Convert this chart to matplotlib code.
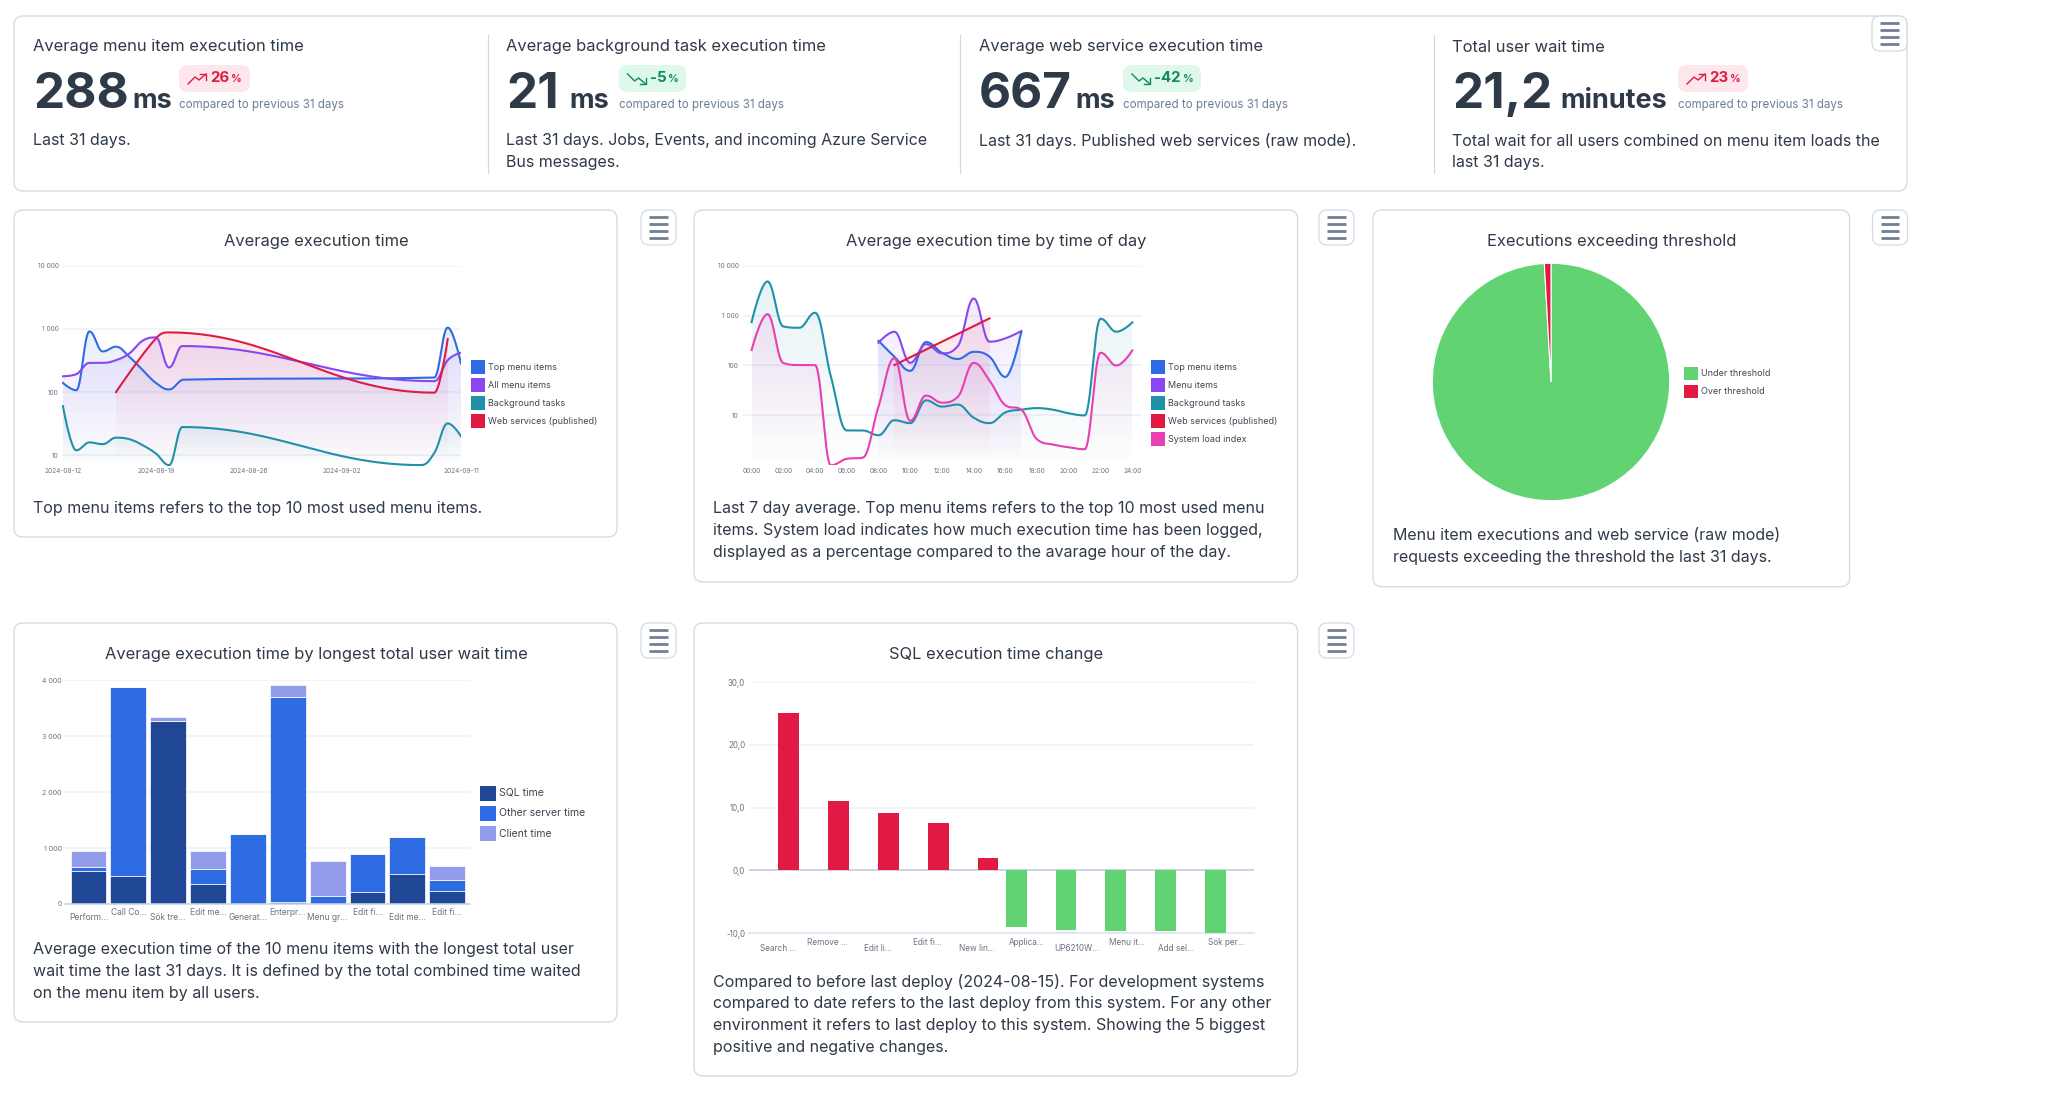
#!/usr/bin/env python3
"""Performance dashboard: KPI strip, two spline charts, a pie and two bar charts."""
import numpy as np
import matplotlib
matplotlib.use("Agg")
import matplotlib.pyplot as plt
from matplotlib.patches import FancyBboxPatch, Polygon, Rectangle
from matplotlib.colors import to_rgb

plt.rcParams["font.family"] = ["Inter", "DejaVu Sans"]

W, H = 2060, 1108

RED = "#e11a43"
BLUE = "#2e6ce3"
PURPLE = "#8a46f0"
TEAL = "#2091a9"
PINK = "#e93fb2"
GREEN = "#61d373"
NAVY = "#1f4795"
LILAC = "#929ceb"
INK = "#2f3a48"
BORDER = "#cfd8e6"
GRID = "#eff2f8"
TICK = "#6a7280"
BODY_PX = 16
TITLE_PX = 16.5

# ---- data ------------------------------------------------------------------
# average execution time, day index from 2024-08-12
top_days = [0, 1, 2, 3, 4, 5, 6, 7, 8, 9, 28, 29, 30]
top_vals = [140, 107, 912, 440, 523, 362, 225, 140, 110, 157, 170, 1050, 284]
all_days = [0, 1, 2, 3, 4, 5, 6, 7, 8, 9, 28, 29, 30]
all_vals = [178, 192, 290, 290, 320, 408, 650, 733, 245, 535, 149, 320, 420]
bg_days = [0, 1, 2, 3, 4, 5, 6, 7, 8, 9, 27, 28, 29, 30]
bg_vals = [60, 12, 16, 15, 19, 18, 14.5, 10.7, 7, 28, 7, 11, 32, 20]
ws_days = [4, 7, 8, 28, 29]
ws_vals = [100, 705, 880, 98, 690]
date_ticks = [0, 7, 14, 21, 30]
date_labels = ["2024-08-12", "2024-08-19", "2024-08-26", "2024-09-02", "2024-09-11"]

# average execution time by hour of day
hours_all = list(range(25))
hours_busy = list(range(8, 18))
hod_bg = [741, 4840, 607, 570, 1140, 60, 5, 5, 4, 8, 7, 20, 15, 16.5, 9, 7, 11.5, 13,
          14, 13, 11, 10, 865, 475, 730]
hod_load = [204, 1070, 112, 102, 102, 1, 1.35, 1.42, 15, 140, 7.8, 25, 18, 23.6, 113, 50,
            16, 13, 3.3, 2.6, 2.3, 2.1, 180, 100, 200]
hod_top = [313, 150, 78, 295, 180, 135, 188, 150, 59, 475]
hod_menu = [285, 475, 113, 268, 175, 245, 2200, 300, 350, 490]
hod_ws_hours = [9, 15]
hod_ws = [102, 880]
hour_ticks = list(range(0, 25, 2))
hour_labels = [f"{h:02d}:00" for h in hour_ticks]
log_ticks = [10, 100, 1000, 10000]
log_labels = ["10", "100", "1 000", "10 000"]

# threshold pie
pie_vals = [99.1, 0.9]
pie_names = ["Under threshold", "Over threshold"]

# longest wait stacked bars
wait_names = ["Perform…", "Call Co…", "Sök tre…", "Edit me…", "Generat…",
              "Enterpr…", "Menu gr…", "Edit fi…", "Edit me…", "Edit fi…"]
wait_sql = [596, 495, 3272, 364, 0, 30, 0, 209, 542, 238]
wait_other = [72, 3385, 0, 262, 1246, 3665, 143, 679, 656, 197]
wait_client = [280, 0, 66, 322, 0, 227, 632, 0, 0, 250]
wait_ticks = [0, 1000, 2000, 3000, 4000]
wait_labels = ["0", "1 000", "2 000", "3 000", "4 000"]

# sql change bars
sql_names = ["Search …", "Remove …", "Edit li…", "Edit fi…", "New lin…",
             "Applica…", "UP6210W…", "Menu it…", "Add sel…", "Sök per…"]
sql_down = [0, 0, 0, 0, 0, -9.0, -9.5, -9.65, -9.7, -10.0]
sql_up = [25.1, 11.1, 9.1, 7.6, 2.0, 0, 0, 0, 0, 0]
sql_ticks = [-10, 0, 10, 20, 30]
sql_labels = ["-10,0", "0,0", "10,0", "20,0", "30,0"]

# KPI strip
kpi_titles = ["Average menu item execution time", "Average background task execution time",
              "Average web service execution time", "Total user wait time"]
kpi_values = ["288", "21", "667", "21,2"]
kpi_units = ["ms", "ms", "ms", "minutes"]
kpi_deltas = ["26", "-5", "-42", "23"]
kpi_notes = [["Last 31 days."],
             ["Last 31 days. Jobs, Events, and incoming Azure Service", "Bus messages."],
             ["Last 31 days. Published web services (raw mode)."],
             ["Total wait for all users combined on menu item loads the", "last 31 days."]]

# ---- layout helpers --------------------------------------------------------
fig = plt.figure(figsize=(W / 100, H / 100), dpi=100, facecolor="white")
bg = fig.add_axes([0, 0, 1, 1], zorder=0)
bg.set_xlim(0, W)
bg.set_ylim(H, 0)
bg.axis("off")


def px_axes(x0, y0, x1, y1):
    ax = fig.add_axes([x0 / W, 1 - y1 / H, (x1 - x0) / W, (y1 - y0) / H], zorder=2)
    ax.patch.set_alpha(0)
    for s in ax.spines.values():
        s.set_visible(False)
    return ax


def label(x, y, s, px=14.5, color=INK, ha="left", va="center", **kw):
    return bg.text(x, y, s, fontsize=px * 0.72, color=color, ha=ha, va=va, **kw)


def card(x0, y0, x1, y1, r=9, ec=BORDER):
    bg.add_patch(FancyBboxPatch((x0 + r, y0 + r), x1 - x0 - 2 * r, y1 - y0 - 2 * r,
                                boxstyle=f"round,pad={r},rounding_size={r}",
                                fc="white", ec=ec, lw=0.9))


def menu_button(x0, y0):
    card(x0, y0, x0 + 35, y0 + 35, r=8, ec="#d3daea")
    for dy in (7.3, 14.3, 21.3, 28.3):
        bg.plot([x0 + 8, x0 + 26.5], [y0 + dy, y0 + dy], color="#718096", lw=2.0,
                solid_capstyle="butt")


def legend(x, y, names, colors, text_x, step=18, box=(13.5, 13.5), px=9):
    for i, (n, c) in enumerate(zip(names, colors)):
        yy = y + i * step
        bg.add_patch(Rectangle((x, yy - box[1] / 2), box[0], box[1], fc=c, ec="none"))
        label(text_x, yy, n, px=px, color="#3d4654")


def spline(x, y, log=True, n=60):
    """Highcharts-style bezier spline through the given points."""
    x = np.asarray(x, float)
    v = np.log10(y) if log else np.asarray(y, float)
    left = v.copy()
    right = v.copy()
    lx = x.copy()
    rx = x.copy()
    for i in range(1, len(x) - 1):
        lcx = (1.5 * x[i] + x[i - 1]) / 2.5
        lcy = (1.5 * v[i] + v[i - 1]) / 2.5
        rcx = (1.5 * x[i] + x[i + 1]) / 2.5
        rcy = (1.5 * v[i] + v[i + 1]) / 2.5
        corr = (rcy - lcy) * (rcx - x[i]) / (rcx - lcx) + v[i] - rcy
        lcy += corr
        rcy += corr
        if lcy > v[i - 1] and lcy > v[i]:
            lcy = max(v[i - 1], v[i])
            rcy = 2 * v[i] - lcy
        elif lcy < v[i - 1] and lcy < v[i]:
            lcy = min(v[i - 1], v[i])
            rcy = 2 * v[i] - lcy
        if rcy > v[i + 1] and rcy > v[i]:
            rcy = max(v[i + 1], v[i])
            lcy = 2 * v[i] - rcy
        elif rcy < v[i + 1] and rcy < v[i]:
            rcy = min(v[i + 1], v[i])
            lcy = 2 * v[i] - rcy
        lx[i], left[i], rx[i], right[i] = lcx, lcy, rcx, rcy
    t = np.linspace(0, 1, n)[:, None]
    out = []
    for i in range(len(x) - 1):
        p0 = np.array([x[i], v[i]])
        p1 = np.array([rx[i], right[i]])
        p2 = np.array([lx[i + 1], left[i + 1]])
        p3 = np.array([x[i + 1], v[i + 1]])
        out.append((1 - t) ** 3 * p0 + 3 * (1 - t) ** 2 * t * p1 + 3 * (1 - t) * t ** 2 * p2 + t ** 3 * p3)
    out = np.vstack(out)
    return out[:, 0], 10 ** out[:, 1] if log else out[:, 1]


def area_line(ax, x, y, color, ybase, z, top_alpha=0.11):
    xs, ys = spline(x, y)
    # gradient fill clipped to the area under the curve
    poly = Polygon(np.column_stack([np.r_[xs, xs[-1], xs[0]], np.r_[ys, ybase, ybase]]),
                   closed=True, fc="none", ec="none", transform=ax.transData)
    ax.add_patch(poly)
    edges = np.geomspace(ybase, ys.max(), 61)
    rgba = np.zeros((60, 1, 4))
    rgba[:, 0, :3] = to_rgb(color)
    rgba[:, 0, 3] = np.linspace(0.0, top_alpha, 60)
    mesh = ax.pcolormesh([xs.min(), xs.max()], edges, rgba, zorder=z, antialiased=False)
    mesh.set_clip_path(poly)
    ax.plot(xs, ys, color=color, lw=1.5, zorder=z + 10)


def style_axis(ax, xticks, xlabels, yticks, ylabels, xpx=6.5, ypx=6.5, grid_lw=1.3):
    ax.set_xticks(xticks, xlabels, fontsize=xpx * 0.72, color=TICK)
    ax.set_yticks(yticks, ylabels, fontsize=ypx * 0.72, color=TICK)
    ax.minorticks_off()
    ax.tick_params(axis="both", length=0)
    ax.tick_params(axis="y", pad=2.5)
    ax.tick_params(axis="x", pad=2)
    ax.grid(True, axis="y", color=GRID, lw=grid_lw, zorder=1)
    ax.set_axisbelow(True)


# ---- KPI strip -------------------------------------------------------------
card(14, 16, 1907, 191)
for dx in (488, 960, 1434):
    bg.plot([dx, dx], [35, 173], color=BORDER, lw=0.9)
menu_button(1872, 16)

col_x = [33, 506.5, 979, 1452]
unit_x = [132, 569.5, 1075, 1560.5]
badge_x = [(179, 250), (618.6, 686), (1123, 1201), (1678, 1748)]
for i in range(4):
    x = col_x[i]
    label(x, 47, kpi_titles[i], px=TITLE_PX)
    label(x, 108, kpi_values[i], px=49.5, fontweight="bold", va="baseline")
    label(unit_x[i], 108, kpi_units[i], px=27, fontweight="bold", va="baseline")
    b0, b1 = badge_x[i]
    up = not kpi_deltas[i].startswith("-")
    col = RED if up else "#0f8a5f"
    bg.add_patch(FancyBboxPatch((b0 + 9, 65 + 9), b1 - b0 - 18, 27 - 18,
                                boxstyle="round,pad=9,rounding_size=9",
                                fc="#fde7ec" if up else "#def8ec", ec="none"))
    ix = b0 + 9
    if up:
        bg.plot([ix, ix + 7, ix + 11, ix + 18], [84, 77, 80, 74], color=col, lw=1.0)
        bg.plot([ix + 12, ix + 18, ix + 18], [74, 74, 80], color=col, lw=1.0)
    else:
        bg.plot([ix, ix + 7, ix + 11, ix + 18], [74, 81, 78, 84], color=col, lw=1.0)
        bg.plot([ix + 12, ix + 18, ix + 18], [84, 84, 78], color=col, lw=1.0)
    t = label(ix + 22, 78.5, kpi_deltas[i], px=15, color=col, fontweight="bold")
    fig.canvas.draw()
    ext = t.get_window_extent()
    label(ext.x1 + 2, 79, "%", px=10.5, color=col, fontweight="bold")
    label(b0, 105, "compared to previous 31 days", px=11.6, color="#6d7f97")
    for j, line in enumerate(kpi_notes[i]):
        label(x, 141 + j * 22, line, px=BODY_PX)

# ---- average execution time ------------------------------------------------
card(14, 210, 617, 537)
menu_button(641, 210)
label(316, 241.7, "Average execution time", px=TITLE_PX, ha="center")
label(33.4, 509, "Top menu items refers to the top 10 most used menu items.", px=BODY_PX)

ax1 = px_axes(62, 265.7, 461, 465.7)
ax1.set_yscale("log")
ybase1 = 10 ** (1 - 10.4 / 63.2)
ax1.set_xlim(-0.07, 30)
ax1.set_ylim(ybase1, 10000)
area_line(ax1, top_days, top_vals, BLUE, ybase1, 2)
area_line(ax1, all_days, all_vals, PURPLE, ybase1, 3)
area_line(ax1, bg_days, bg_vals, TEAL, ybase1, 4)
area_line(ax1, ws_days, ws_vals, RED, ybase1, 5)
style_axis(ax1, date_ticks, date_labels, log_ticks, log_labels)
legend(471, 367, ["Top menu items", "All menu items", "Background tasks", "Web services (published)"],
       [BLUE, PURPLE, TEAL, RED], 488)

# ---- by time of day --------------------------------------------------------
card(694, 210, 1297.6, 582)
menu_button(1319, 210)
label(995.7, 241.7, "Average execution time by time of day", px=TITLE_PX, ha="center")
for j, line in enumerate(["Last 7 day average. Top menu items refers to the top 10 most used menu",
                          "items. System load indicates how much execution time has been logged,",
                          "displayed as a percentage compared to the avarage hour of the day."]):
    label(713, 509 + j * 21.9, line, px=BODY_PX)

ax2 = px_axes(742, 265.7, 1141.5, 465.3)
ax2.set_yscale("log")
ax2.set_xlim(-0.605, 24.58)
ax2.set_ylim(1, 10000)
area_line(ax2, hours_busy, hod_top, BLUE, 1, 2)
area_line(ax2, hours_busy, hod_menu, PURPLE, 1, 3)
area_line(ax2, hours_all, hod_bg, TEAL, 1, 4)
area_line(ax2, hod_ws_hours, hod_ws, RED, 1, 5)
area_line(ax2, hours_all, hod_load, PINK, 1, 6)
style_axis(ax2, hour_ticks, hour_labels, log_ticks, log_labels)
legend(1151, 367, ["Top menu items", "Menu items", "Background tasks", "Web services (published)", "System load index"],
       [BLUE, PURPLE, TEAL, RED, PINK], 1168)

# ---- pie -------------------------------------------------------------------
card(1373, 210, 1849.6, 586.7)
menu_button(1872.5, 210)
label(1612, 241.7, "Executions exceeding threshold", px=TITLE_PX, ha="center")
label(1392.6, 535.7, "Menu item executions and web service (raw mode)", px=BODY_PX)
label(1392.6, 557.7, "requests exceeding the threshold the last 31 days.", px=BODY_PX)
ax3 = px_axes(1551 - 118.7, 382 - 118.7, 1551 + 118.7, 382 + 118.7)
ax3.pie(pie_vals, colors=[GREEN, RED], startangle=90, counterclock=False, radius=1,
        wedgeprops={"edgecolor": "white", "linewidth": 0.8})
ax3.set_xlim(-1, 1)
ax3.set_ylim(-1, 1)
legend(1684, 373.7, pie_names, [GREEN, RED], 1701)

# ---- longest wait ----------------------------------------------------------
card(14, 623, 617, 1022)
menu_button(641, 623)
label(316, 654.7, "Average execution time by longest total user wait time", px=TITLE_PX, ha="center")
for j, line in enumerate(["Average execution time of the 10 menu items with the longest total user",
                          "wait time the last 31 days. It is defined by the total combined time waited",
                          "on the menu item by all users."]):
    label(33.4, 949.7 + j * 22, line, px=BODY_PX)

ax4 = px_axes(65, 680.3, 469.6, 904)
x4 = np.arange(len(wait_names))
sql = np.array(wait_sql)
other = np.array(wait_other)
client = np.array(wait_client)
ax4.bar(x4, sql, width=0.9, color=NAVY, edgecolor="white", linewidth=0.5, zorder=3)
ax4.bar(x4, other, bottom=sql, width=0.9, color=BLUE, edgecolor="white", linewidth=0.5, zorder=3)
ax4.bar(x4, client, bottom=sql + other, width=0.9, color=LILAC, edgecolor="white", linewidth=0.5, zorder=3)
ax4.set_xlim(-0.59, 9.56)
ax4.set_ylim(0, 4000)
style_axis(ax4, x4, wait_names, wait_ticks, wait_labels, xpx=8.5, ypx=7)
ax4.axhline(0, color="#c9d2e3", lw=1.2, zorder=4, clip_on=False)
for i, tick in enumerate(ax4.xaxis.get_major_ticks()):
    tick.set_pad(6.8 if i % 2 == 0 else 2.9)
legend(480, 793, ["SQL time", "Other server time", "Client time"], [NAVY, BLUE, LILAC], 499,
       step=20.3, box=(15.5, 15), px=10.5)

# ---- sql change ------------------------------------------------------------
card(694, 623, 1297.6, 1076)
menu_button(1319, 623)
label(995.7, 654.7, "SQL execution time change", px=TITLE_PX, ha="center")
for j, line in enumerate(["Compared to before last deploy (2024-08-15). For development systems",
                          "compared to date refers to the last deploy from this system. For any other",
                          "environment it refers to last deploy to this system. Showing the 5 biggest",
                          "positive and negative changes."]):
    label(713, 981.7 + j * 22, line, px=BODY_PX)

ax5 = px_axes(748.6, 682, 1253.8, 933.3)
x5 = np.arange(len(sql_names))
ax5.bar(x5 - 0.218, sql_down, width=0.418, color=GREEN, linewidth=0, zorder=3)
ax5.bar(x5 + 0.218, sql_up, width=0.418, color=RED, linewidth=0, zorder=3)
ax5.set_xlim(-0.59, 9.555)
ax5.set_ylim(-10, 30)
style_axis(ax5, x5, sql_names, sql_ticks, sql_labels, xpx=8.2, ypx=8)
ax5.axhline(0, color="#c5cee0", lw=1.2, zorder=2)
ax5.axhline(-10, color="#dfe4ee", lw=1.2, zorder=2, clip_on=False)
for i, tick in enumerate(ax5.xaxis.get_major_ticks()):
    tick.set_pad(7.7 if i % 2 == 0 else 3.4)

fig.savefig("out.png", dpi=100, facecolor="white")
print("wrote out.png")
